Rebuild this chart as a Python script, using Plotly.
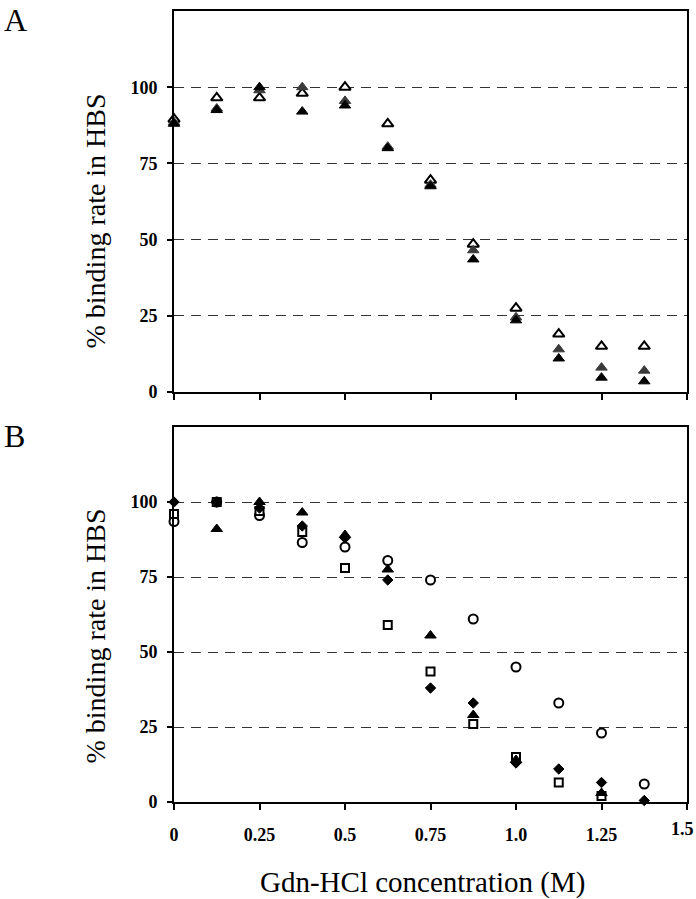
import plotly.graph_objects as go

# ---- data ----
gdn = [0, 0.125, 0.25, 0.375, 0.5, 0.625, 0.75, 0.875, 1.0, 1.125, 1.25, 1.375]

# Panel A
a_open_tri = [89.5, 96.5, 96.5, 98, 100, 88, 69.5, 48.5, 27.5, 19, 15, 15]
a_gray_tri = [88.5, 93, 99, 100, 95.5, 80.5, 68, 46.5, 24.5, 14, 8, 7]
a_black_tri = [88, 92.5, 100, 92, 94, 80, 67.5, 43.5, 23.5, 11, 4.7, 3.5]

# Panel B
b_diamond = [100, 100, 98, 92, 88, 74, 38, 33, 13, 11, 6.5, 0.5]
b_circle = [93.5, 100, 95.5, 86.5, 85, 80.5, 74, 61, 45, 33, 23, 6]
b_square = [96, 100, 97, 90, 78, 59, 43.5, 26, 15, 6.5, 2, None]
b_triangle = [None, 91, 100, 96.5, 89, 77.5, 55.5, 29, 14, None, 3, None]

x_tickvals = [0, 0.25, 0.5, 0.75, 1.0, 1.25, 1.5]
x_ticktext = ["0", "0.25", "0.5", "0.75", "1.0", "1.25", "1.5"]
y_tickvals = [0, 25, 50, 75, 100]
y_ticktext = ["0", "25", "50", "75", "100"]

panel_labels = ["A", "B"]
y_title = "% binding rate in HBS"
x_title = "Gdn-HCl concentration (M)"

W, H = 696, 899
SERIF = "Liberation Serif"

fig = go.Figure()

def add(x, y, xa, ya, symbol, fill, line_color, size, lw):
    fig.add_trace(go.Scatter(
        x=x, y=y, xaxis=xa, yaxis=ya, mode="markers", showlegend=False,
        marker=dict(symbol=symbol, size=size, color=fill,
                    line=dict(color=line_color, width=lw)),
        cliponaxis=False, hoverinfo="skip",
    ))

# Panel A (axes x / y)
add(gdn, a_open_tri, "x", "y", "triangle-up", "white", "black", 10, 2)
add(gdn, a_gray_tri, "x", "y", "triangle-up", "#3a3a3a", "#3a3a3a", 10, 1)
add(gdn, a_black_tri, "x", "y", "triangle-up", "black", "black", 10, 1)

# Panel B (axes x2 / y2)
add(gdn, b_circle, "x2", "y2", "circle", "white", "black", 9, 2)
add(gdn, b_square, "x2", "y2", "square", "white", "black", 8, 2)
add(gdn, b_triangle, "x2", "y2", "triangle-up", "black", "black", 10, 1)
add(gdn, b_diamond, "x2", "y2", "diamond", "black", "black", 8, 1)

xdom = [174 / W, 687 / W]
ydomA = [1 - 392 / H, 1 - 11 / H]
ydomB = [1 - 802 / H, 1 - 427 / H]

# last tick label is drawn as a right-aligned annotation so it stays inside the page
x_ticktext_axis = x_ticktext[:-1] + [""]

def xaxis(anchor, labels):
    return dict(domain=xdom, anchor=anchor, range=[0, 1.5], automargin=False,
                tickvals=x_tickvals, ticktext=x_ticktext_axis,
                showticklabels=labels, ticks="outside", ticklen=6, tickwidth=2,
                tickcolor="black", showline=True, linewidth=2, linecolor="black",
                mirror=True, showgrid=False, zeroline=False, fixedrange=True,
                ticklabelstandoff=9, ticklabeloverflow="allow",
                tickfont=dict(family=SERIF, size=18, color="black", weight="bold"))

def yaxis(anchor, dom):
    return dict(domain=dom, anchor=anchor, range=[0, 125], automargin=False,
                tickvals=y_tickvals, ticktext=y_ticktext,
                ticks="outside", ticklen=5, tickwidth=2, tickcolor="black",
                showline=True, linewidth=2, linecolor="black", mirror=True,
                showgrid=True, gridcolor="#333333", gridwidth=1.2, griddash="10px,7px",
                zeroline=False, ticklabelstandoff=6, fixedrange=True,
                tickfont=dict(family=SERIF, size=18, color="black", weight="bold"))

def yaxis_inner(overlay, anchor, dom):
    # inner half of the crossing y tick marks
    return dict(domain=dom, anchor=anchor, overlaying=overlay, range=[0, 125],
                automargin=False, tickvals=y_tickvals, showticklabels=False,
                ticks="inside", ticklen=5, tickwidth=2, tickcolor="black",
                showline=False, showgrid=False, zeroline=False, fixedrange=True)

fig.update_layout(
    width=W, height=H,
    margin=dict(l=0, r=0, t=0, b=0, pad=0, autoexpand=False),
    paper_bgcolor="white", plot_bgcolor="white",
    xaxis=xaxis("y", False), yaxis=yaxis("x", ydomA),
    xaxis2=xaxis("y2", True), yaxis2=yaxis("x2", ydomB),
    yaxis3=yaxis_inner("y", "x", ydomA), yaxis4=yaxis_inner("y2", "x2", ydomB),
)

ann = []
# panel labels
for lab, top in ((panel_labels[0], 0), (panel_labels[1], 416)):
    ann.append(dict(text=lab, x=2 / W, y=1 - top / H, xref="paper", yref="paper",
                    showarrow=False, xanchor="left", yanchor="top",
                    font=dict(family=SERIF, size=32, color="black")))
# y titles
for cy in (221.5, 636.5):
    ann.append(dict(text=y_title, x=95 / W, y=1 - cy / H, xref="paper", yref="paper",
                    showarrow=False, textangle=-90, xanchor="center", yanchor="middle",
                    font=dict(family=SERIF, size=28, color="black")))
# x title
ann.append(dict(text=x_title, x=422 / W, y=1 - 882 / H, xref="paper", yref="paper",
                showarrow=False, xanchor="center", yanchor="middle",
                font=dict(family=SERIF, size=29, color="black")))
# last x tick label
ann.append(dict(text="<b>" + x_ticktext[-1] + "</b>", x=x_tickvals[-1], xref="x2",
                y=1 - 829 / H, yref="paper", showarrow=False,
                xanchor="right", yanchor="middle", xshift=9,
                font=dict(family=SERIF, size=18, color="black")))
fig.update_layout(annotations=ann)

fig.write_html("out.html", config={"displayModeBar": False},
               post_script="document.body.style.margin='0';")
